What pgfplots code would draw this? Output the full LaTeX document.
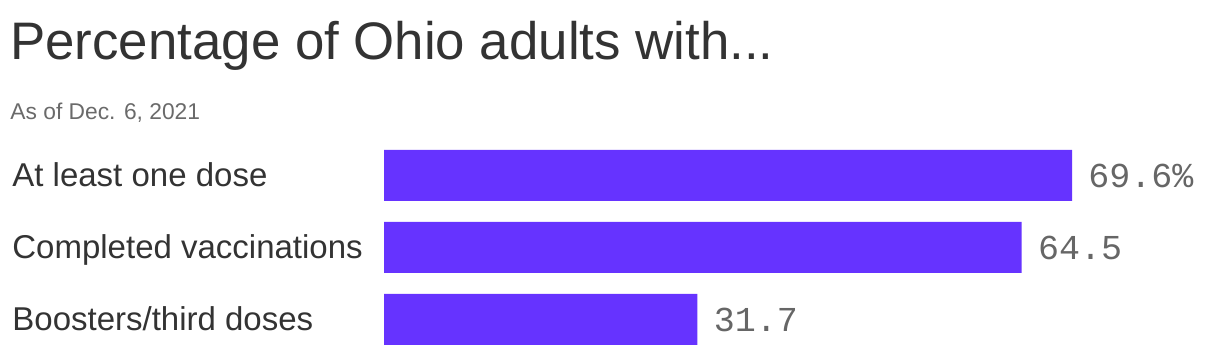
\documentclass[border=0pt]{standalone}
\usepackage{pgfplots}
\pgfplotsset{compat=1.18}
\usepackage{fontspec}
\setmainfont{Liberation Sans}
\newfontfamily\valfont{Liberation Mono}
\definecolor{barc}{HTML}{6633FF}
\definecolor{txt}{HTML}{333333}
\definecolor{subc}{HTML}{6A6A6A}
\definecolor{valc}{HTML}{666666}
\begin{document}
\begin{tikzpicture}
\path[use as bounding box] (0,0) rectangle (610pt,178pt);
\begin{axis}[at={(192pt,0pt)}, anchor=south west, scale only axis,
  width=418pt, height=178pt,
  xmin=0, xmax=84.57, ymin=-2.4375, ymax=2.507, y dir=reverse,
  clip=false, axis line style={draw=none}, major tick length=0pt,
  xtick=\empty, ytick={0,1,2},
  yticklabels={At least one dose, Completed vaccinations, Boosters/third doses},
  yticklabel style={anchor=base west, xshift=-186pt, yshift=-5.5pt, inner sep=0pt,
    font=\fontsize{16.5}{18}\selectfont, text=txt},
  xbar, bar width=25.5pt,
  point meta=explicit symbolic,
  nodes near coords,
  nodes near coords style={anchor=west, xshift=8pt, inner sep=0pt,
    font=\valfont\fontsize{17.5}{20}\selectfont, text=valc},
]
\addplot[draw=none, fill=barc] coordinates {(69.6,0) [69.6\%] (64.5,1) [64.5] (31.7,2) [31.7]};
\end{axis}
\node[anchor=base west, inner sep=0pt, text=txt, font=\fontsize{26.4}{30}\selectfont] at (5pt,148pt) {Percentage of Ohio adults with...};
\node[anchor=base west, inner sep=0pt, text=subc, font=\fontsize{11.4}{13}\selectfont] at (5pt,118pt) {As of Dec. 6, 2021};
\end{tikzpicture}
\end{document}
